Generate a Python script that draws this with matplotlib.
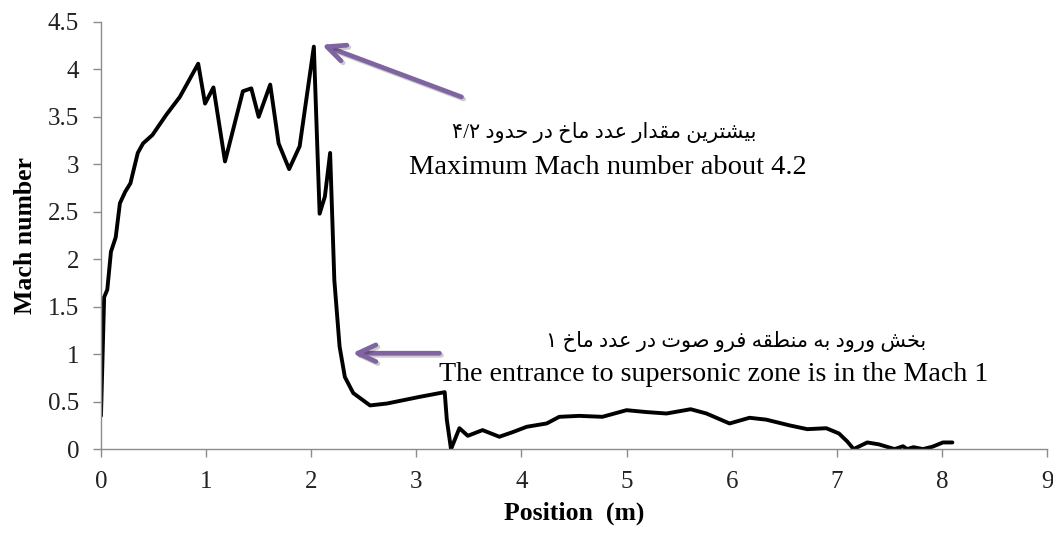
import matplotlib
matplotlib.use("Agg")
import matplotlib.pyplot as plt
import matplotlib.patheffects as pe

# Mach number along the nozzle
position = [0, 0.03, 0.06, 0.095, 0.14, 0.18, 0.23, 0.28, 0.35, 0.40, 0.49, 0.62,
            0.75, 0.85, 0.925, 0.99, 1.07, 1.18, 1.35, 1.43, 1.50, 1.61, 1.69, 1.79,
            1.89, 2.025, 2.08, 2.13, 2.18, 2.22, 2.27, 2.32, 2.40, 2.56, 2.72, 3.03,
            3.27, 3.29, 3.33, 3.41, 3.49, 3.63, 3.79, 3.92, 4.05, 4.24, 4.36, 4.55,
            4.77, 5.0, 5.19, 5.38, 5.61, 5.76, 5.98, 6.17, 6.33, 6.55, 6.72, 6.90,
            7.02, 7.10, 7.16, 7.29, 7.40, 7.55, 7.63, 7.67, 7.73, 7.82, 7.91, 8.01, 8.10]
mach = [0.35, 1.60, 1.68, 2.08, 2.23, 2.59, 2.71, 2.80, 3.12, 3.22, 3.31, 3.52,
        3.71, 3.91, 4.06, 3.64, 3.81, 3.03, 3.77, 3.80, 3.50, 3.84, 3.22, 2.95,
        3.19, 4.24, 2.48, 2.66, 3.12, 1.78, 1.08, 0.76, 0.59, 0.46, 0.48, 0.55,
        0.60, 0.31, 0.0, 0.22, 0.14, 0.20, 0.13, 0.18, 0.235, 0.27, 0.34, 0.35,
        0.34, 0.41, 0.39, 0.375, 0.42, 0.375, 0.27, 0.33, 0.31, 0.25, 0.21, 0.22,
        0.165, 0.08, 0.0, 0.07, 0.05, 0.0, 0.03, 0.0, 0.02, 0.0, 0.025, 0.07, 0.07]

x_ticks = [0, 1, 2, 3, 4, 5, 6, 7, 8, 9]
y_ticks = [0, 0.5, 1, 1.5, 2, 2.5, 3, 3.5, 4, 4.5]
y_tick_labels = ["0", "0.5", "1", "1.5", "2", "2.5", "3", "3.5", "4", "4.5"]

note_max_fa = "بیشترین مقدار عدد ماخ در حدود ۴/۲"
note_max_en = "Maximum Mach number about 4.2"
note_sub_fa = "بخش ورود به منطقه فرو صوت در عدد ماخ ۱"
note_sub_en = "The entrance to supersonic zone is in the Mach 1"

# matplotlib does no arabic shaping, so pick the contextual forms by hand
# (isolated, final, initial, medial)
FORMS = {
    'ا': ('\uFE8D', '\uFE8E', None, None),
    'ب': ('\uFE8F', '\uFE90', '\uFE91', '\uFE92'),
    'ت': ('\uFE95', '\uFE96', '\uFE97', '\uFE98'),
    'ح': ('\uFEA1', '\uFEA2', '\uFEA3', '\uFEA4'),
    'خ': ('\uFEA5', '\uFEA6', '\uFEA7', '\uFEA8'),
    'د': ('\uFEA9', '\uFEAA', None, None),
    'ر': ('\uFEAD', '\uFEAE', None, None),
    'ش': ('\uFEB5', '\uFEB6', '\uFEB7', '\uFEB8'),
    'ص': ('\uFEB9', '\uFEBA', '\uFEBB', '\uFEBC'),
    'ط': ('\uFEC1', '\uFEC2', '\uFEC3', '\uFEC4'),
    'ع': ('\uFEC9', '\uFECA', '\uFECB', '\uFECC'),
    'ف': ('\uFED1', '\uFED2', '\uFED3', '\uFED4'),
    'ق': ('\uFED5', '\uFED6', '\uFED7', '\uFED8'),
    'م': ('\uFEE1', '\uFEE2', '\uFEE3', '\uFEE4'),
    'ن': ('\uFEE5', '\uFEE6', '\uFEE7', '\uFEE8'),
    'ه': ('\uFEE9', '\uFEEA', '\uFEEB', '\uFEEC'),
    'و': ('\uFEED', '\uFEEE', None, None),
    'ی': ('\uFBFC', '\uFBFD', '\uFBFE', '\uFBFF'),
}


def shape_word(w):
    out = []
    for i, c in enumerate(w):
        if c not in FORMS:
            out.append(c)
            continue
        iso, fin, ini, med = FORMS[c]
        prev = w[i - 1] if i > 0 else None
        nxt = w[i + 1] if i < len(w) - 1 else None
        join_prev = prev in FORMS and FORMS[prev][2] is not None
        join_next = ini is not None and nxt in FORMS
        if join_prev and join_next:
            out.append(med)
        elif join_prev:
            out.append(fin)
        elif join_next:
            out.append(ini)
        else:
            out.append(iso)
    return "".join(reversed(out))


def rtl(s):
    vis = []
    for w in reversed(s.split(" ")):
        if any(c in FORMS for c in w):
            vis.append(shape_word(w))
        else:
            vis.append(w)
    return " ".join(vis)


serif = ["Liberation Serif", "DejaVu Serif"]
fa_font = ["Liberation Serif", "DejaVu Sans"]
purple = "#8064A2"
gray = "#8C8C8C"

fig = plt.figure(figsize=(10.53, 5.34), dpi=100)
ax = fig.add_axes([0.0959, 0.159, 0.8984, 0.7999])

ax.plot(position, mach, color="black", lw=2.8, solid_joinstyle="round",
        solid_capstyle="round")

ax.set_xlim(0, 9)
ax.set_ylim(0, 4.5)
ax.set_xticks(x_ticks)
ax.set_xticklabels([str(t) for t in x_ticks], fontfamily=serif, fontsize=18)
ax.set_yticks(y_ticks)
ax.set_yticklabels(y_tick_labels, fontfamily=serif, fontsize=18)
ax.tick_params(direction="out", length=5.8, width=1, color=gray, pad=10,
               labelcolor="#222222")
for side in ["top", "right"]:
    ax.spines[side].set_visible(False)
for side in ["left", "bottom"]:
    ax.spines[side].set_color(gray)
    ax.spines[side].set_linewidth(1)

ax.set_xlabel("Position  (m)", fontfamily=serif, fontweight="bold", fontsize=18.5,
              labelpad=6)
ax.set_ylabel("Mach number", fontfamily=serif, fontweight="bold", fontsize=18.5,
              labelpad=8)

shadow = [pe.SimpleLineShadow(offset=(1.5, -1.5), alpha=0.2), pe.Normal()]
arrow_style = "->, head_length=1.3, head_width=0.6"
ax.annotate("", xy=(2.10, 4.26), xytext=(3.43, 3.71),
            arrowprops=dict(arrowstyle=arrow_style, color=purple, lw=3.4,
                            shrinkA=0, shrinkB=0, path_effects=shadow))
ax.annotate("", xy=(2.39, 1.01), xytext=(3.22, 1.01),
            arrowprops=dict(arrowstyle=arrow_style, color=purple, lw=3.4,
                            shrinkA=0, shrinkB=0, path_effects=shadow))

ax.text(4.79, 3.34, rtl(note_max_fa), family=fa_font, fontsize=15,
        ha="center", va="center")
ax.text(4.82, 2.97, note_max_en, family=serif, fontsize=20.5,
        ha="center", va="center")
ax.text(6.04, 1.13, rtl(note_sub_fa), family=fa_font, fontsize=15,
        ha="center", va="center")
ax.text(5.83, 0.79, note_sub_en, family=serif, fontsize=20.2,
        ha="center", va="center")

fig.savefig("out.png", dpi=100)
